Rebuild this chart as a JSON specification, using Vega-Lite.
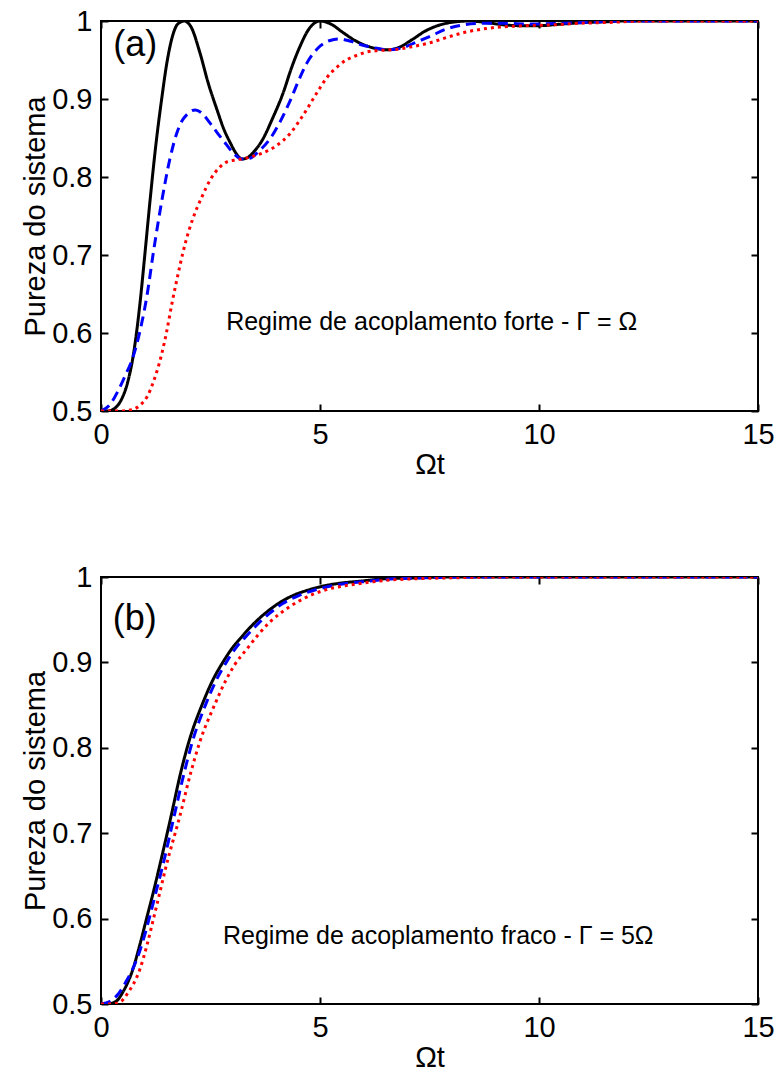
{
"$schema": "https://vega.github.io/schema/vega-lite/v6.json",
"padding": {"left": 20, "top": 6, "right": 2, "bottom": 2},
"spacing": 82,
"config": {
 "view": {"stroke": "black", "strokeWidth": 2},
 "axis": {"domain": false, "grid": false, "tickColor": "black", "tickWidth": 2, "tickSize": -7, "labelFont": "Liberation Sans", "labelFontSize": 29, "labelColor": "black", "labelPadding": 16, "labelFlush": false, "labelOverlap": false, "titleFont": "Liberation Sans", "titleFontSize": 29, "titleFontWeight": "normal", "titleColor": "black", "titlePadding": 1},
 "text": {"font": "Liberation Sans", "color": "black"}
},
"datasets": {
 "a": [
  {"s":"black","t":0,"v":0.5},{"s":"black","t":0.15,"v":0.5},{"s":"black","t":0.3,"v":0.503},{"s":"black","t":0.45,"v":0.513},{"s":"black","t":0.6,"v":0.535},{"s":"black","t":0.73,"v":0.569},{"s":"black","t":0.89,"v":0.638},{"s":"black","t":1.0,"v":0.7},{"s":"black","t":1.12,"v":0.77},{"s":"black","t":1.25,"v":0.84},{"s":"black","t":1.39,"v":0.902},{"s":"black","t":1.5,"v":0.945},{"s":"black","t":1.62,"v":0.978},{"s":"black","t":1.75,"v":0.996},{"s":"black","t":1.9,"v":1.0},{"s":"black","t":2.05,"v":0.993},{"s":"black","t":2.26,"v":0.959},{"s":"black","t":2.45,"v":0.92},{"s":"black","t":2.65,"v":0.886},{"s":"black","t":2.8,"v":0.862},{"s":"black","t":2.95,"v":0.844},{"s":"black","t":3.1,"v":0.829},{"s":"black","t":3.22,"v":0.823},{"s":"black","t":3.35,"v":0.825},{"s":"black","t":3.5,"v":0.833},{"s":"black","t":3.7,"v":0.849},{"s":"black","t":3.9,"v":0.873},{"s":"black","t":4.16,"v":0.908},{"s":"black","t":4.35,"v":0.94},{"s":"black","t":4.54,"v":0.967},{"s":"black","t":4.75,"v":0.99},{"s":"black","t":5.0,"v":1.0},{"s":"black","t":5.25,"v":0.996},{"s":"black","t":5.53,"v":0.985},{"s":"black","t":5.8,"v":0.975},{"s":"black","t":6.07,"v":0.968},{"s":"black","t":6.35,"v":0.964},{"s":"black","t":6.55,"v":0.963},{"s":"black","t":6.8,"v":0.966},{"s":"black","t":7.1,"v":0.976},{"s":"black","t":7.4,"v":0.987},{"s":"black","t":7.74,"v":0.995},{"s":"black","t":8.1,"v":0.999},{"s":"black","t":8.4,"v":1.0},{"s":"black","t":8.8,"v":0.998},{"s":"black","t":9.2,"v":0.995},{"s":"black","t":9.6,"v":0.994},{"s":"black","t":10.0,"v":0.994},{"s":"black","t":10.5,"v":0.996},{"s":"black","t":11,"v":0.998},{"s":"black","t":11.5,"v":0.999},{"s":"black","t":12,"v":1.0},{"s":"black","t":15,"v":1.0},
  {"s":"blue","t":0,"v":0.5},{"s":"blue","t":0.2,"v":0.508},{"s":"blue","t":0.4,"v":0.527},{"s":"blue","t":0.55,"v":0.545},{"s":"blue","t":0.73,"v":0.569},{"s":"blue","t":0.9,"v":0.605},{"s":"blue","t":1.05,"v":0.648},{"s":"blue","t":1.2,"v":0.705},{"s":"blue","t":1.39,"v":0.77},{"s":"blue","t":1.58,"v":0.825},{"s":"blue","t":1.73,"v":0.856},{"s":"blue","t":1.85,"v":0.872},{"s":"blue","t":1.96,"v":0.88},{"s":"blue","t":2.15,"v":0.886},{"s":"blue","t":2.3,"v":0.882},{"s":"blue","t":2.49,"v":0.869},{"s":"blue","t":2.65,"v":0.857},{"s":"blue","t":2.79,"v":0.847},{"s":"blue","t":3.0,"v":0.832},{"s":"blue","t":3.22,"v":0.823},{"s":"blue","t":3.4,"v":0.824},{"s":"blue","t":3.6,"v":0.833},{"s":"blue","t":3.86,"v":0.849},{"s":"blue","t":4.1,"v":0.872},{"s":"blue","t":4.32,"v":0.898},{"s":"blue","t":4.5,"v":0.922},{"s":"blue","t":4.7,"v":0.946},{"s":"blue","t":4.95,"v":0.965},{"s":"blue","t":5.23,"v":0.975},{"s":"blue","t":5.45,"v":0.977},{"s":"blue","t":5.7,"v":0.974},{"s":"blue","t":5.98,"v":0.969},{"s":"blue","t":6.3,"v":0.965},{"s":"blue","t":6.55,"v":0.963},{"s":"blue","t":6.9,"v":0.966},{"s":"blue","t":7.2,"v":0.973},{"s":"blue","t":7.5,"v":0.98},{"s":"blue","t":7.9,"v":0.99},{"s":"blue","t":8.27,"v":0.995},{"s":"blue","t":8.7,"v":0.997},{"s":"blue","t":9.2,"v":0.997},{"s":"blue","t":9.8,"v":0.996},{"s":"blue","t":10.5,"v":0.997},{"s":"blue","t":11,"v":0.998},{"s":"blue","t":12,"v":1.0},{"s":"blue","t":15,"v":1.0},
  {"s":"red","t":0,"v":0.5},{"s":"red","t":0.4,"v":0.5},{"s":"red","t":0.73,"v":0.502},{"s":"red","t":0.9,"v":0.508},{"s":"red","t":1.05,"v":0.518},{"s":"red","t":1.2,"v":0.538},{"s":"red","t":1.39,"v":0.574},{"s":"red","t":1.5,"v":0.602},{"s":"red","t":1.62,"v":0.638},{"s":"red","t":1.75,"v":0.673},{"s":"red","t":1.87,"v":0.703},{"s":"red","t":2.0,"v":0.73},{"s":"red","t":2.1,"v":0.747},{"s":"red","t":2.3,"v":0.774},{"s":"red","t":2.5,"v":0.797},{"s":"red","t":2.72,"v":0.813},{"s":"red","t":2.9,"v":0.82},{"s":"red","t":3.1,"v":0.822},{"s":"red","t":3.3,"v":0.824},{"s":"red","t":3.5,"v":0.827},{"s":"red","t":3.7,"v":0.831},{"s":"red","t":4.0,"v":0.84},{"s":"red","t":4.32,"v":0.856},{"s":"red","t":4.6,"v":0.878},{"s":"red","t":4.93,"v":0.908},{"s":"red","t":5.15,"v":0.927},{"s":"red","t":5.39,"v":0.941},{"s":"red","t":5.6,"v":0.95},{"s":"red","t":5.84,"v":0.956},{"s":"red","t":6.05,"v":0.96},{"s":"red","t":6.3,"v":0.962},{"s":"red","t":6.6,"v":0.963},{"s":"red","t":6.8,"v":0.964},{"s":"red","t":7.1,"v":0.967},{"s":"red","t":7.5,"v":0.972},{"s":"red","t":7.9,"v":0.979},{"s":"red","t":8.27,"v":0.985},{"s":"red","t":8.88,"v":0.991},{"s":"red","t":9.7,"v":0.994},{"s":"red","t":10.3,"v":0.995},{"s":"red","t":10.9,"v":0.997},{"s":"red","t":11.5,"v":0.998},{"s":"red","t":12.5,"v":1.0},{"s":"red","t":15,"v":1.0}
 ],
 "b": [
  {"s":"black","t":0,"v":0.5},{"s":"black","t":0.15,"v":0.5},{"s":"black","t":0.34,"v":0.503},{"s":"black","t":0.5,"v":0.514},{"s":"black","t":0.73,"v":0.541},{"s":"black","t":0.9,"v":0.572},{"s":"black","t":1.03,"v":0.598},{"s":"black","t":1.2,"v":0.632},{"s":"black","t":1.34,"v":0.662},{"s":"black","t":1.6,"v":0.72},{"s":"black","t":1.82,"v":0.771},{"s":"black","t":2.0,"v":0.806},{"s":"black","t":2.32,"v":0.852},{"s":"black","t":2.55,"v":0.879},{"s":"black","t":2.78,"v":0.9},{"s":"black","t":3.0,"v":0.917},{"s":"black","t":3.23,"v":0.931},{"s":"black","t":3.5,"v":0.946},{"s":"black","t":3.76,"v":0.958},{"s":"black","t":4.05,"v":0.969},{"s":"black","t":4.37,"v":0.978},{"s":"black","t":4.75,"v":0.985},{"s":"black","t":5.13,"v":0.99},{"s":"black","t":5.5,"v":0.993},{"s":"black","t":5.9,"v":0.995},{"s":"black","t":6.5,"v":0.998},{"s":"black","t":7.2,"v":0.999},{"s":"black","t":8,"v":1.0},{"s":"black","t":15,"v":1.0},
  {"s":"blue","t":0,"v":0.5},{"s":"blue","t":0.2,"v":0.503},{"s":"blue","t":0.4,"v":0.512},{"s":"blue","t":0.57,"v":0.526},{"s":"blue","t":0.8,"v":0.55},{"s":"blue","t":0.97,"v":0.576},{"s":"blue","t":1.1,"v":0.6},{"s":"blue","t":1.27,"v":0.634},{"s":"blue","t":1.41,"v":0.662},{"s":"blue","t":1.67,"v":0.72},{"s":"blue","t":1.9,"v":0.771},{"s":"blue","t":2.08,"v":0.806},{"s":"blue","t":2.4,"v":0.852},{"s":"blue","t":2.63,"v":0.879},{"s":"blue","t":2.86,"v":0.9},{"s":"blue","t":3.08,"v":0.917},{"s":"blue","t":3.32,"v":0.931},{"s":"blue","t":3.6,"v":0.946},{"s":"blue","t":3.86,"v":0.958},{"s":"blue","t":4.15,"v":0.969},{"s":"blue","t":4.5,"v":0.978},{"s":"blue","t":4.9,"v":0.985},{"s":"blue","t":5.3,"v":0.99},{"s":"blue","t":5.7,"v":0.993},{"s":"blue","t":6.1,"v":0.995},{"s":"blue","t":6.7,"v":0.998},{"s":"blue","t":7.4,"v":0.999},{"s":"blue","t":8.2,"v":1.0},{"s":"blue","t":15,"v":1.0},
  {"s":"red","t":0,"v":0.5},{"s":"red","t":0.25,"v":0.5},{"s":"red","t":0.43,"v":0.502},{"s":"red","t":0.6,"v":0.512},{"s":"red","t":0.89,"v":0.541},{"s":"red","t":1.05,"v":0.569},{"s":"red","t":1.18,"v":0.596},{"s":"red","t":1.35,"v":0.632},{"s":"red","t":1.48,"v":0.66},{"s":"red","t":1.8,"v":0.72},{"s":"red","t":2.05,"v":0.771},{"s":"red","t":2.25,"v":0.806},{"s":"red","t":2.6,"v":0.851},{"s":"red","t":2.85,"v":0.879},{"s":"red","t":3.05,"v":0.897},{"s":"red","t":3.35,"v":0.917},{"s":"red","t":3.6,"v":0.933},{"s":"red","t":3.85,"v":0.947},{"s":"red","t":4.3,"v":0.965},{"s":"red","t":4.76,"v":0.978},{"s":"red","t":5.2,"v":0.986},{"s":"red","t":5.6,"v":0.99},{"s":"red","t":6.0,"v":0.993},{"s":"red","t":6.5,"v":0.996},{"s":"red","t":7.2,"v":0.998},{"s":"red","t":8,"v":0.999},{"s":"red","t":9,"v":1.0},{"s":"red","t":15,"v":1.0}
 ]
},
"vconcat": [
 {
  "width": 657, "height": 390,
  "layer": [
   {"data": {"name": "a"}, "mark": {"type": "line", "strokeWidth": 3, "clip": true, "interpolate": "monotone"},
    "encoding": {
     "x": {"field": "t", "type": "quantitative", "scale": {"domain": [0, 15], "nice": false, "zero": false}, "axis": {"orient": "bottom", "values": [0, 5, 10, 15], "title": "Ωt"}},
     "y": {"field": "v", "type": "quantitative", "scale": {"domain": [0.5, 1], "nice": false, "zero": false}, "axis": {"orient": "left", "values": [0.5, 0.6, 0.7, 0.8, 0.9, 1], "format": "~g", "title": "Pureza do sistema"}},
     "color": {"field": "s", "type": "nominal", "scale": {"domain": ["black", "blue", "red"], "range": ["#000000", "#0000ff", "#ff0000"]}, "legend": null},
     "strokeDash": {"field": "s", "type": "nominal", "scale": {"domain": ["black", "blue", "red"], "range": [[1, 0], [10, 6], [3, 4]]}, "legend": null}
    }},
   {"data": {"values": [{"t": 7.55, "v": 0.614, "label": "Regime de acoplamento forte - Γ = Ω"}]},
    "mark": {"type": "text", "fontSize": 25, "align": "center", "baseline": "middle"},
    "encoding": {
     "x": {"field": "t", "type": "quantitative", "axis": {"orient": "top", "values": [0, 5, 10, 15], "labels": false, "title": null}},
     "y": {"field": "v", "type": "quantitative", "axis": {"orient": "right", "values": [0.5, 0.6, 0.7, 0.8, 0.9, 1], "labels": false, "title": null}},
     "text": {"field": "label"}
    }},
   {"data": {"values": [{"t": 0.78, "v": 0.969, "label": "(a)"}]},
    "mark": {"type": "text", "fontSize": 36, "align": "center", "baseline": "middle"},
    "encoding": {
     "x": {"field": "t", "type": "quantitative", "axis": null},
     "y": {"field": "v", "type": "quantitative", "axis": null},
     "text": {"field": "label"}
    }}
  ],
  "resolve": {"axis": {"x": "independent", "y": "independent"}}
 },
 {
  "width": 657, "height": 427,
  "layer": [
   {"data": {"name": "b"}, "mark": {"type": "line", "strokeWidth": 3, "clip": true, "interpolate": "monotone"},
    "encoding": {
     "x": {"field": "t", "type": "quantitative", "scale": {"domain": [0, 15], "nice": false, "zero": false}, "axis": {"orient": "bottom", "values": [0, 5, 10, 15], "title": "Ωt"}},
     "y": {"field": "v", "type": "quantitative", "scale": {"domain": [0.5, 1], "nice": false, "zero": false}, "axis": {"orient": "left", "values": [0.5, 0.6, 0.7, 0.8, 0.9, 1], "format": "~g", "title": "Pureza do sistema"}},
     "color": {"field": "s", "type": "nominal", "scale": {"domain": ["black", "blue", "red"], "range": ["#000000", "#0000ff", "#ff0000"]}, "legend": null},
     "strokeDash": {"field": "s", "type": "nominal", "scale": {"domain": ["black", "blue", "red"], "range": [[1, 0], [10, 6], [3, 4]]}, "legend": null}
    }},
   {"data": {"values": [{"t": 7.7, "v": 0.58, "label": "Regime de acoplamento fraco - Γ = 5Ω"}]},
    "mark": {"type": "text", "fontSize": 25, "align": "center", "baseline": "middle"},
    "encoding": {
     "x": {"field": "t", "type": "quantitative", "axis": {"orient": "top", "values": [0, 5, 10, 15], "labels": false, "title": null}},
     "y": {"field": "v", "type": "quantitative", "axis": {"orient": "right", "values": [0.5, 0.6, 0.7, 0.8, 0.9, 1], "labels": false, "title": null}},
     "text": {"field": "label"}
    }},
   {"data": {"values": [{"t": 0.77, "v": 0.951, "label": "(b)"}]},
    "mark": {"type": "text", "fontSize": 36, "align": "center", "baseline": "middle"},
    "encoding": {
     "x": {"field": "t", "type": "quantitative", "axis": null},
     "y": {"field": "v", "type": "quantitative", "axis": null},
     "text": {"field": "label"}
    }}
  ],
  "resolve": {"axis": {"x": "independent", "y": "independent"}}
 }
]
}
